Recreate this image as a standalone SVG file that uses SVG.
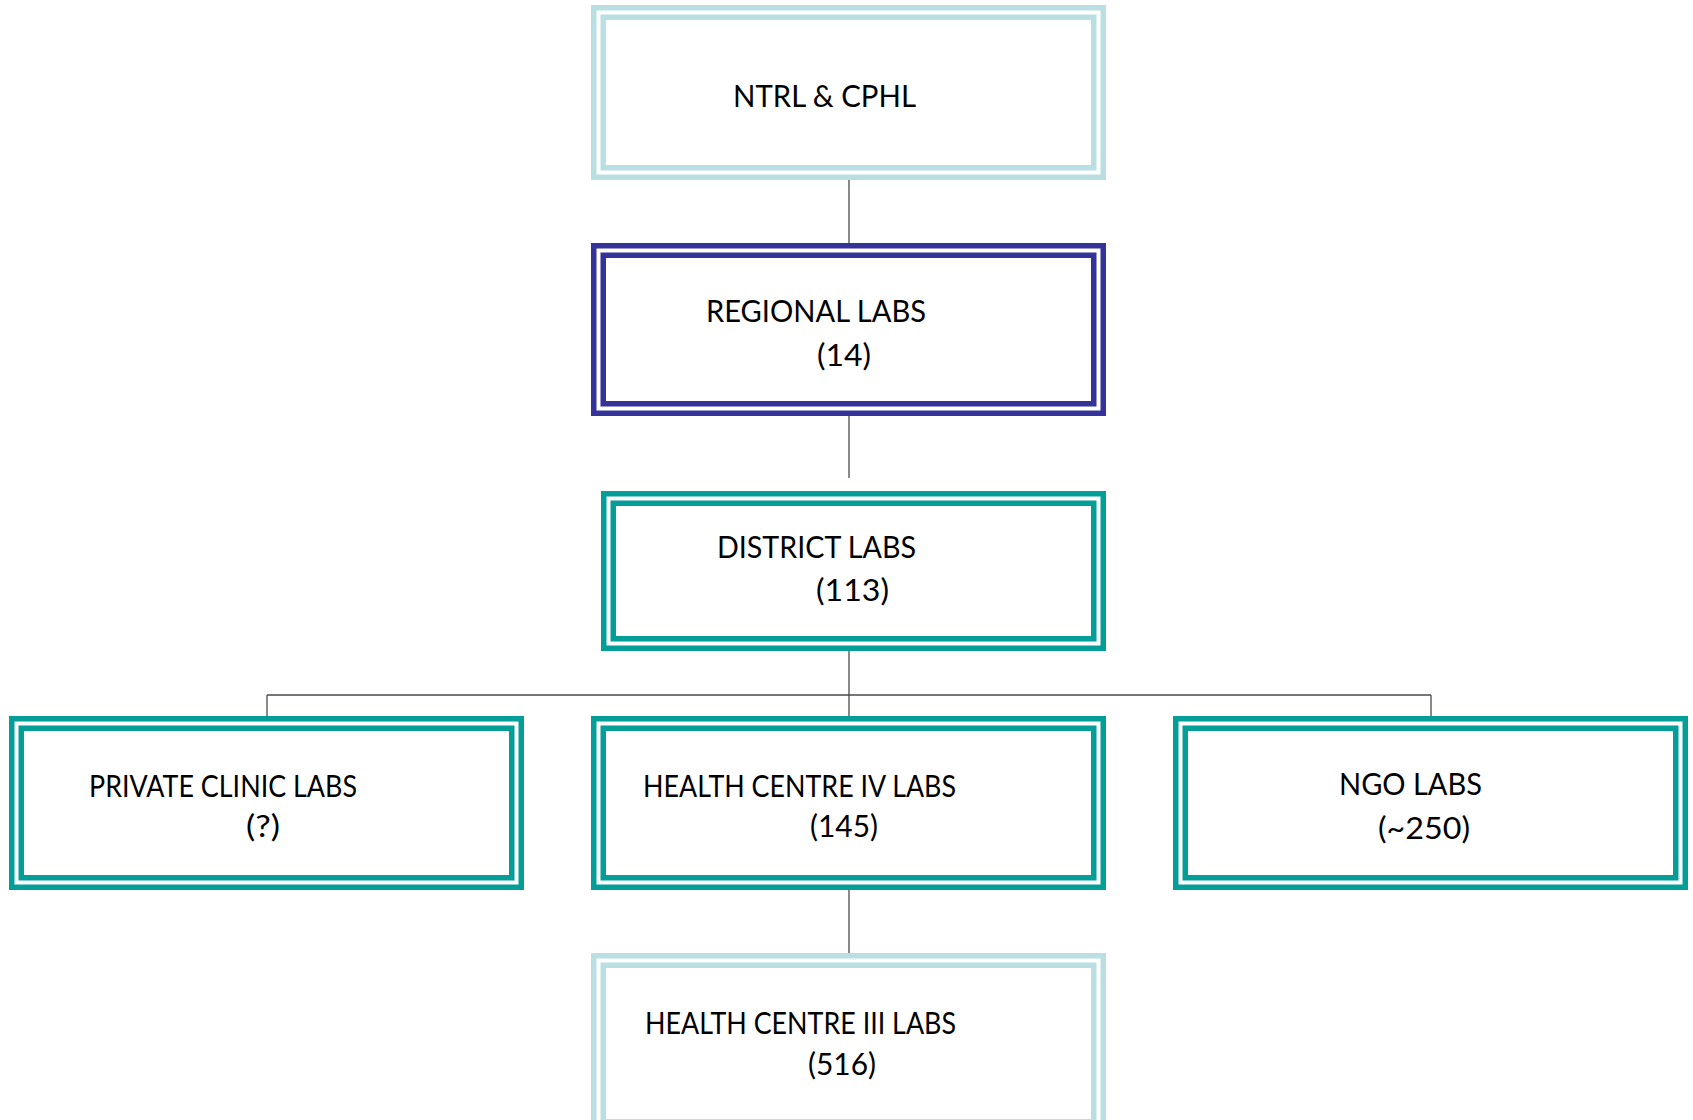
<svg xmlns="http://www.w3.org/2000/svg" width="1693" height="1120" viewBox="0 0 1693 1120">
<style>
  .bg { fill: #ffffff; }
  rect.b { fill: none; stroke-width: 5.5; }
  rect.fill { fill: #ffffff; stroke: none; }
  .light rect.b { stroke: #BADFE3; }
  .navy rect.b { stroke: #333399; }
  .teal rect.b { stroke: #049E99; }
  text { font-family: Lato, "Liberation Sans", Arial, sans-serif; font-size: 31px; fill: #000000; }
  .conn line { stroke: #4a4a4a; stroke-width: 1.3; fill: none; }
</style>
<rect class="bg" x="0" y="0" width="1693" height="1120"/>

<g id="connectors" class="conn">
  <line x1="849" y1="180" x2="849" y2="243"/>
  <line x1="849" y1="416" x2="849" y2="478"/>
  <line x1="849" y1="651" x2="849" y2="716"/>
  <line x1="267" y1="695" x2="1431" y2="695"/>
  <line x1="267" y1="695" x2="267" y2="716"/>
  <line x1="1431" y1="695" x2="1431" y2="716"/>
  <line x1="849" y1="890" x2="849" y2="953"/>
</g>

<g id="node-ntrl" class="light">
  <rect class="fill" x="591" y="5" width="515" height="175"/>
  <rect class="b" x="593.75" y="7.75" width="509.5" height="169.5"/>
  <rect class="b" x="603.25" y="17.25" width="490.5" height="150.5"/>
  <text x="733" y="106.5" textLength="183" lengthAdjust="spacingAndGlyphs">NTRL &amp; CPHL</text>
</g>

<g id="node-regional" class="navy">
  <rect class="fill" x="591" y="243" width="515" height="173"/>
  <rect class="b" x="593.75" y="245.75" width="509.5" height="167.5"/>
  <rect class="b" x="603.25" y="255.25" width="490.5" height="148.5"/>
  <text x="706" y="322" textLength="220" lengthAdjust="spacingAndGlyphs">REGIONAL LABS</text>
  <text x="817" y="366" textLength="54" lengthAdjust="spacingAndGlyphs">(14)</text>
</g>

<g id="node-district" class="teal">
  <rect class="fill" x="601" y="491" width="505" height="160"/>
  <rect class="b" x="603.75" y="493.75" width="499.5" height="154.5"/>
  <rect class="b" x="613.25" y="503.25" width="480.5" height="135.5"/>
  <text x="717" y="558" textLength="199" lengthAdjust="spacingAndGlyphs">DISTRICT LABS</text>
  <text x="816" y="600.5" textLength="73" lengthAdjust="spacingAndGlyphs">(113)</text>
</g>

<g id="node-private" class="teal">
  <rect class="fill" x="9" y="716" width="515" height="174"/>
  <rect class="b" x="11.75" y="718.75" width="509.5" height="168.5"/>
  <rect class="b" x="21.25" y="728.25" width="490.5" height="149.5"/>
  <text x="89" y="796.5" textLength="268" lengthAdjust="spacingAndGlyphs">PRIVATE CLINIC LABS</text>
  <text x="246" y="837" textLength="34" lengthAdjust="spacingAndGlyphs">(?)</text>
</g>

<g id="node-hc4" class="teal">
  <rect class="fill" x="591" y="716" width="515" height="174"/>
  <rect class="b" x="593.75" y="718.75" width="509.5" height="168.5"/>
  <rect class="b" x="603.25" y="728.25" width="490.5" height="149.5"/>
  <text x="643" y="796.5" textLength="313" lengthAdjust="spacingAndGlyphs">HEALTH CENTRE IV LABS</text>
  <text x="810" y="837" textLength="68" lengthAdjust="spacingAndGlyphs">(145)</text>
</g>

<g id="node-ngo" class="teal">
  <rect class="fill" x="1173" y="716" width="515" height="174"/>
  <rect class="b" x="1175.75" y="718.75" width="509.5" height="168.5"/>
  <rect class="b" x="1185.25" y="728.25" width="490.5" height="149.5"/>
  <text x="1339" y="795" textLength="143" lengthAdjust="spacingAndGlyphs">NGO LABS</text>
  <text x="1378" y="838.5" textLength="92" lengthAdjust="spacingAndGlyphs">(~250)</text>
</g>

<g id="node-hc3" class="light">
  <rect class="fill" x="591" y="953" width="515" height="181"/>
  <rect class="b" x="593.75" y="955.75" width="509.5" height="175.5"/>
  <rect class="b" x="603.25" y="965.25" width="490.5" height="156.5"/>
  <text x="645" y="1034" textLength="311" lengthAdjust="spacingAndGlyphs">HEALTH CENTRE III LABS</text>
  <text x="808" y="1075" textLength="68" lengthAdjust="spacingAndGlyphs">(516)</text>
</g>
</svg>
